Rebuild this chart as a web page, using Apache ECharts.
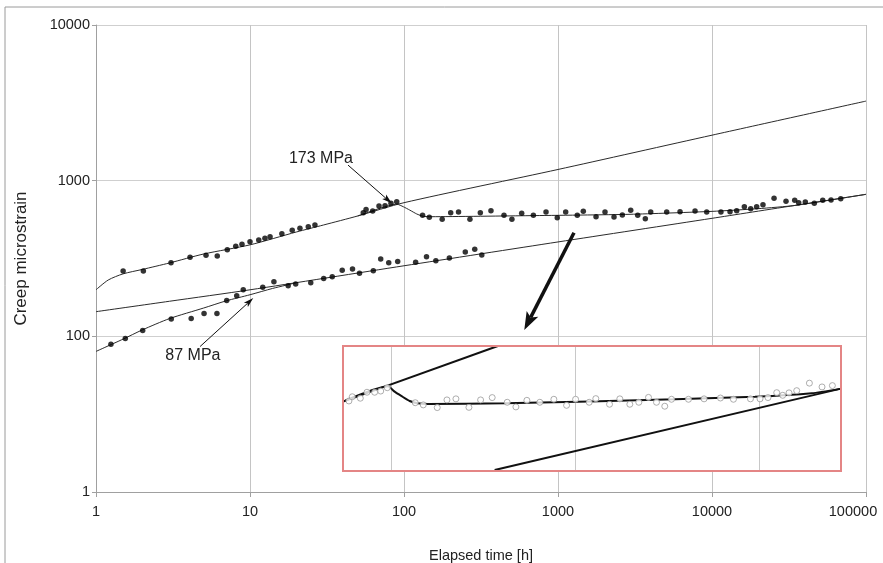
<!DOCTYPE html>
<html>
<head>
<meta charset="utf-8">
<title>Creep microstrain</title>
<script src="https://cdn.jsdelivr.net/npm/echarts@6/dist/echarts.min.js"></script>
<style>
  html, body { margin: 0; padding: 0; background: #ffffff; overflow: hidden; }
  #chart { width: 883px; height: 563px; }
</style>
</head>
<body>
<div id="chart"></div>
<script>
// ---- Measured creep data: [elapsed time (h), microstrain] ----
const points173 = [
  [1.5,263],[2.03,263],[3.07,297],[4.08,322],[5.18,332],[6.13,328],[7.12,360],[8.08,379],[8.87,390],
  [10.0,405],[11.4,416],[12.5,427],[13.5,437],[16.1,456],[18.8,480],[21.1,494],[23.9,506],[26.4,519],
  [54.4,622],[56.7,654],[62.6,638],[68.8,687],[75.3,690],[82.3,715],[89.7,732],
  [132,599],[146,582],[177,565],[201,622],[226,629],[268,565],[313,622],[367,641],[446,599],[502,565],
  [581,617],[692,599],[836,629],[989,578],[1122,629],[1334,599],[1460,636],[1766,587],[2019,629],
  [2311,585],[2617,602],[2966,645],[3293,599],[3690,570],[4000,629],[5080,629],[6200,632],[7760,638],
  [9240,629],[11430,629],[13090,632],[14460,641],[16220,680],[17830,660],[19500,680],[21430,700],
  [25290,770],[30240,737],[34440,748],[36560,722],[40360,729],[46150,715],[52360,748],[59290,751],[68550,765]
];
const points87 = [
  [1.25,89],[1.55,97],[2.01,109],[3.08,129],[4.15,130],[5.03,140],[6.1,140],[7.06,170],[8.2,182],
  [9.04,199],[12.1,207],[14.3,224],[17.7,211],[19.8,217],[24.8,221],[30.1,235],[34.2,241],[39.7,266],
  [46.3,271],[51.4,254],[63.2,264],[70.6,314],[79.6,297],[91,302],[119,299],[140,325],[161,306],
  [197,319],[250,348],[288,362],[320,333]
];

// ---- Fitted curves ----
const fit173 = [[1,199],[1.2,230],[1.5,252],[2,269],[3,296],[5,338],[10,387],[20,468],[30,519],[50,593],
  [100,722],[1000,1180],[10000,1960],[100000,3245]];
const trans173 = [[50,593],[90,706],[99,680],[109,647],[121,611],[133.5,590],[150,587],[658,596],
  [2935,608],[10000,635],[20000,661],[35000,694],[100000,817]];
const fit87 = [[1,144],[3,168],[10,199],[100,284],[1000,404],[10000,573],[100000,817]];
const trans87 = [[1,80],[1.5,96],[2,110],[3,130],[5,152],[7,169],[10,185],[14,203],[20,221]];

// ---- Annotations: [time, strain, text] and arrows [t0, s0, t1, s1] ----
const stressLabels = [[28.9,1396,'173 MPa'],[4.26,75,'87 MPa']];
const labelArrows = [[43.3,1259,83.2,715],[4.74,86,10.5,176]];
const zoomArrow = [[1270,463,604,110]];

// ---- Detail view (enlarged 173 MPa response) ----
const insetPoints = [
  [58.7,607],[61.2,627],[67.7,620],[73.6,649],[81.0,649],[87.4,655],[94.9,672],
  [134.7,599],[148.9,589],[177.4,577],[200.3,612],[224.1,617],[263.8,578],[305.3,612],[353,623],
  [426,601],[475,580],[545,610],[641,601],[764,615],[896,587],[1003,615],[1189,601],[1292,618],
  [1534,592],[1745,617],[1978,592],[2214,601],[2499,624],[2762,601],[3064,583],[3333,615],
  [4123,615],[5012,617],[6153,621],[7240,615],[8959,617],[10100,617],[11160,623],[12450,647],
  [13420,634],[14520,646],[15990,657],[18740,696],[21950,676],[24990,683]
];
const insetUpper = [[54.5,604],[379,925.5]];
const insetLower = [[364,357.5],[27490,666]];
const insetTransient = [[54.5,604],[95.7,679],[104,652],[113,631],[125.6,607],[139,596],[158,593],
  [414,596],[3474,615],[9489,627],[19290,644],[27490,666]];

// ---- Axis settings ----
const xRange = [1, 100000];
const yRange = [10, 10000];
const yTickValues = [10, 100, 1000, 10000];
const yTickLabels = ['1', '100', '1000', '10000'];
const insetXRange = [54.5, 27840];
const insetYRange = [354.7, 925.5];

const FONT = '"Liberation Sans", Arial, sans-serif';
const CHART_W = 883, CHART_H = 563;
const mainGrid = { left: 96, right: 17, top: 25, bottom: 71 };
const insetBox = { left: 343, top: 346, width: 498, height: 125 };

function arrowRenderer(shaftWidth, headLen, headWidth) {
  return function (params, api) {
    const p0 = api.coord([api.value(0), api.value(1)]);
    const p1 = api.coord([api.value(2), api.value(3)]);
    const dx = p1[0] - p0[0], dy = p1[1] - p0[1];
    const len = Math.hypot(dx, dy);
    const ux = dx / len, uy = dy / len;
    const nx = -uy, ny = ux;
    const bx = p1[0] - ux * headLen, by = p1[1] - uy * headLen;
    const notch = headLen * 0.22;
    return {
      type: 'group',
      children: [
        { type: 'line',
          shape: { x1: p0[0], y1: p0[1], x2: bx + ux * notch, y2: by + uy * notch },
          style: { stroke: '#111', lineWidth: shaftWidth } },
        { type: 'polygon',
          shape: { points: [
            [p1[0], p1[1]],
            [bx + nx * headWidth / 2, by + ny * headWidth / 2],
            [bx + ux * notch, by + uy * notch],
            [bx - nx * headWidth / 2, by - ny * headWidth / 2]
          ] },
          style: { fill: '#111' } }
      ]
    };
  };
}

function lineSeries(data, opts) {
  return Object.assign({
    type: 'line', data: data, showSymbol: false, symbol: 'none',
    lineStyle: { color: '#2b2b2b', width: 1 }, silent: true, z: 3
  }, opts);
}

const chart = echarts.init(document.getElementById('chart'), null,
  { renderer: 'canvas', width: CHART_W, height: CHART_H });

chart.setOption({
  animation: false,
  backgroundColor: '#ffffff',
  textStyle: { fontFamily: FONT },
  grid: [
    Object.assign({ containLabel: false, outerBoundsMode: 'none' }, mainGrid),
    { left: insetBox.left, top: insetBox.top, width: insetBox.width, height: insetBox.height,
      containLabel: false, outerBoundsMode: 'none' }
  ],
  graphic: [
    { type: 'rect', z: -1, silent: true,
      shape: { x: 5, y: 7, width: 1000, height: 1000 },
      style: { fill: 'none', stroke: '#9a9a9a', lineWidth: 1 } },
    { type: 'rect', z: 1, silent: true,
      shape: { x: insetBox.left, y: insetBox.top, width: insetBox.width, height: insetBox.height },
      style: { fill: '#ffffff', stroke: 'none' } },
    { type: 'rect', z: 20, silent: true,
      shape: { x: insetBox.left, y: insetBox.top, width: insetBox.width, height: insetBox.height },
      style: { fill: 'none', stroke: '#e48585', lineWidth: 2 } }
  ],
  xAxis: [
    {
      type: 'log', logBase: 10, gridIndex: 0, min: xRange[0], max: xRange[1],
      name: 'Elapsed time [h]', nameLocation: 'middle', nameGap: 56,
      nameTextStyle: { fontSize: 14.5, color: '#222', fontFamily: FONT },
      axisLine: { show: true, lineStyle: { color: '#a0a0a0', width: 1 } },
      axisTick: { show: true, length: 5, lineStyle: { color: '#a0a0a0' } },
      axisLabel: { fontSize: 14.5, color: '#222', margin: 12, fontFamily: FONT,
        formatter: v => {
          const r = Math.round(v);
          // the last label is nudged left so it stays inside the frame
          return r >= xRange[1] ? '{last|' + r + '}' : String(r);
        },
        rich: { last: { fontSize: 14.5, color: '#222', fontFamily: FONT, padding: [0, 26, 0, 0] } } },
      splitLine: { show: true, lineStyle: { color: '#c4c4c4', width: 1 } }
    },
    {
      type: 'log', logBase: 10, gridIndex: 1, min: insetXRange[0], max: insetXRange[1], z: 2,
      axisLine: { show: false }, axisTick: { show: false }, axisLabel: { show: false },
      splitLine: { show: true, showMinLine: false, showMaxLine: false,
        lineStyle: { color: '#c8c8c8', width: 1 } }
    }
  ],
  yAxis: [
    {
      type: 'log', logBase: 10, gridIndex: 0, min: yRange[0], max: yRange[1],
      name: 'Creep microstrain', nameLocation: 'middle', nameGap: 66, nameRotate: 90,
      nameTextStyle: { fontSize: 17, color: '#222', fontFamily: FONT },
      axisLine: { show: true, lineStyle: { color: '#a0a0a0', width: 1 } },
      axisTick: { show: true, length: 4, lineStyle: { color: '#a0a0a0' } },
      axisLabel: { fontSize: 14.5, color: '#222', margin: 6, fontFamily: FONT,
        formatter: v => {
          const i = yTickValues.indexOf(Math.round(v));
          return i >= 0 ? yTickLabels[i] : '';
        } },
      splitLine: { show: true, lineStyle: { color: '#cfcfcf', width: 1 } }
    },
    {
      type: 'log', logBase: 10, gridIndex: 1, min: insetYRange[0], max: insetYRange[1], z: 2,
      axisLine: { show: false }, axisTick: { show: false }, axisLabel: { show: false },
      splitLine: { show: false }
    }
  ],
  series: [
    // main view
    lineSeries(fit173, { name: 'fit 173 MPa', smooth: 0.25 }),
    lineSeries(trans173, { name: 'transient 173 MPa', smooth: 0.2 }),
    lineSeries(fit87, { name: 'fit 87 MPa', smooth: 0.25 }),
    lineSeries(trans87, { name: 'transient 87 MPa', smooth: 0.25 }),
    { type: 'scatter', name: '173 MPa', data: points173, symbol: 'circle', symbolSize: 5.5,
      itemStyle: { color: '#000' }, silent: true, z: 4 },
    { type: 'scatter', name: '87 MPa', data: points87, symbol: 'circle', symbolSize: 5.5,
      itemStyle: { color: '#000' }, silent: true, z: 4 },
    { type: 'custom', name: 'label arrows', data: labelArrows, silent: true, z: 5,
      renderItem: arrowRenderer(1, 10, 6) },
    { type: 'custom', name: 'zoom arrow', data: zoomArrow, silent: true, z: 5,
      renderItem: arrowRenderer(3.5, 18, 13) },
    { type: 'custom', name: 'stress labels', data: stressLabels, silent: true, z: 5,
      renderItem: (params, api) => {
        const p = api.coord([api.value(0), api.value(1)]);
        return { type: 'text', x: p[0], y: p[1],
          style: { text: stressLabels[params.dataIndex][2], fill: '#222',
            font: '16px ' + FONT, textAlign: 'center', textVerticalAlign: 'middle' } };
      } },
    // detail view
    lineSeries(insetUpper, { name: 'detail fit upper', xAxisIndex: 1, yAxisIndex: 1,
      lineStyle: { color: '#111', width: 2 }, z: 12 }),
    lineSeries(insetLower, { name: 'detail fit lower', xAxisIndex: 1, yAxisIndex: 1,
      lineStyle: { color: '#111', width: 2 }, z: 12 }),
    lineSeries(insetTransient, { name: 'detail transient', xAxisIndex: 1, yAxisIndex: 1, smooth: 0.2,
      lineStyle: { color: '#111', width: 2 }, z: 12 }),
    { type: 'scatter', name: 'detail points', xAxisIndex: 1, yAxisIndex: 1, data: insetPoints,
      symbol: 'circle', symbolSize: 6, silent: true, z: 13,
      itemStyle: { color: '#ffffff', borderColor: '#9a9a9a', borderWidth: 1 } }
  ]
});
</script>
</body>
</html>
